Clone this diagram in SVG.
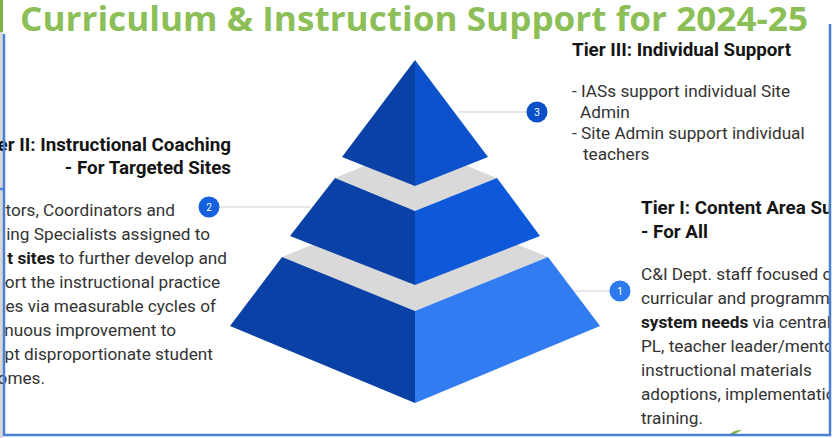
<svg xmlns="http://www.w3.org/2000/svg" width="833" height="438" viewBox="0 0 833 438">
<style>
.title{font-family:"Open Sans","Liberation Sans",sans-serif;font-weight:700;font-size:34px;fill:#8cbf58}
.h{font-family:Roboto,"Liberation Sans",sans-serif;font-weight:700;font-size:18.8px;fill:#141414}
.b{font-family:Roboto,"Liberation Sans",sans-serif;font-size:17.2px;fill:#333333}
.bb{font-weight:700;fill:#1a1a1a}
.lead{stroke:#cfcfcf;stroke-width:1.2;fill:none}
.num{font-family:Roboto,"Liberation Sans",sans-serif;font-size:10px;fill:#ffffff;text-anchor:middle}
.gray{fill:#d9d9d9}
.frame{stroke:#4a7fd6;stroke-width:2.5;fill:none}
</style>
<defs>
<clipPath id="clipR"><rect x="0" y="0" width="829" height="438"/></clipPath>
</defs>
<rect width="833" height="438" fill="#ffffff"/>
<rect x="0" y="0" width="3" height="438" fill="#d8d8d8"/>
<rect x="0" y="0" width="3" height="32" fill="#7cb342"/>
<text class="title" x="20" y="31" textLength="788" lengthAdjust="spacingAndGlyphs">Curriculum &amp; Instruction Support for 2024-25</text>

<g id="connectors">
<line class="lead" x1="458" y1="112" x2="527" y2="112"/>
<line class="lead" x1="219" y1="207" x2="311" y2="207"/>
<line class="lead" x1="572" y1="291" x2="610" y2="291"/>
</g>

<g id="tier1">
<polygon class="gray" points="282,257 415,203 548,257 415,311"/>
<polygon fill="#0a41a6" points="282,257 415,311 415,403 230,326"/>
<polygon fill="#317cf0" points="415,311 548,257 600,326 415,403"/>
</g>
<g id="tier2">
<polygon class="gray" points="335,178 415,145 497,178 415,211"/>
<polygon fill="#0a41a6" points="335,178 415,211 415,285 290,236"/>
<polygon fill="#0d59d9" points="415,211 497,178 540,236 415,285"/>
</g>
<g id="tier3">
<polygon fill="#0a41a6" points="415,60 415,186 342,157"/>
<polygon fill="#0b52cc" points="415,60 488,157 415,186"/>
</g>

<g id="badge3">
<circle cx="537" cy="112" r="10.5" fill="#0b50c8"/>
<text class="num" x="537" y="115.5">3</text>
</g>
<g id="badge2">
<circle cx="209" cy="207" r="10.5" fill="#1560dc"/>
<text class="num" x="209" y="210.5">2</text>
</g>
<g id="badge1">
<circle cx="620" cy="291" r="10.5" fill="#2d79ee"/>
<text class="num" x="620" y="294.5">1</text>
</g>

<g id="label3">
<text class="h" x="572" y="56">Tier III: Individual Support</text>
<text class="b" x="572" y="97">- IASs support individual Site</text>
<text class="b" x="580" y="118">Admin</text>
<text class="b" x="572" y="139">- Site Admin support individual</text>
<text class="b" x="583" y="160">teachers</text>
</g>

<g id="label2">
<text class="h" x="231" y="151" text-anchor="end">Tier II: Instructional Coaching</text>
<text class="h" x="231" y="174" text-anchor="end">- For Targeted Sites</text>
<text class="b" x="175" y="216" text-anchor="end">tors, Coordinators and</text>
<text class="b" x="210" y="240" text-anchor="end">ing Specialists assigned to</text>
<text class="b" x="227" y="264" text-anchor="end"><tspan class="bb">t sites</tspan> to further develop and</text>
<text class="b" x="220" y="288" text-anchor="end">ort the instructional practice</text>
<text class="b" x="216" y="312" text-anchor="end">es via measurable cycles of</text>
<text class="b" x="176" y="336" text-anchor="end">nuous improvement to</text>
<text class="b" x="213" y="360" text-anchor="end">pt disproportionate student</text>
<text class="b" x="45" y="384" text-anchor="end">omes.</text>
</g>

<g id="label1" clip-path="url(#clipR)">
<text class="h" x="641" y="214">Tier I: Content Area Su</text>
<text class="h" x="641" y="238">- For All</text>
<text class="b" x="641" y="280">C&amp;I Dept. staff focused o</text>
<text class="b" x="641" y="304">curricular and programm</text>
<text class="b" x="641" y="328"><tspan class="bb">system needs</tspan> via central</text>
<text class="b" x="641" y="352">PL, teacher leader/mento</text>
<text class="b" x="641" y="376">instructional materials</text>
<text class="b" x="641" y="400">adoptions, implementatio</text>
<text class="b" x="641" y="424">training.</text>
</g>

<path d="M728,436 Q734,429 742,430 Q736,434 728,436 Z" fill="#7cb342"/>
<polyline class="frame" points="4,34 4,435 830,435 830,24"/>
<line class="frame" x1="0" y1="189" x2="4" y2="189"/>
</svg>
